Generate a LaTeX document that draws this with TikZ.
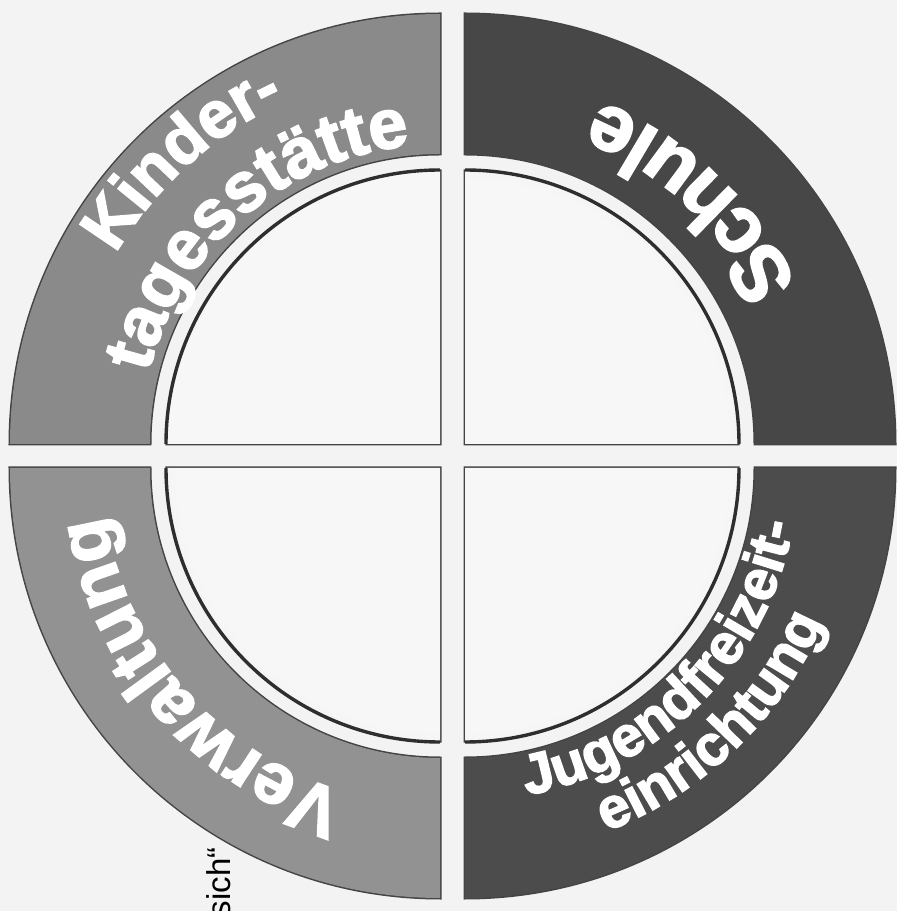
\documentclass[tikz,border=0pt]{standalone}
\usepackage{fontspec}
\setmainfont{Liberation Sans}
\newfontfamily\bandfont{Liberation Sans}[BoldFeatures={FakeBold=2.5}]
\usetikzlibrary{decorations.text}
\definecolor{bgc}{HTML}{F3F3F3}
\definecolor{lightband}{HTML}{8A8A8A}
\definecolor{lightbandB}{HTML}{929292}
\definecolor{darkband}{HTML}{474747}
\definecolor{darkbandB}{HTML}{4C4C4C}
\definecolor{dA}{HTML}{F7F7F7}
\definecolor{dB}{HTML}{BEBEBE}
\definecolor{dC}{HTML}{E2E2E2}
\definecolor{olc}{HTML}{444444}
\definecolor{arcc}{HTML}{2E2E2E}
\pgfdeclareradialshading{discsh}{\pgfpoint{0bp}{0bp}}{color(0bp)=(dA); color(24bp)=(dA); color(50bp)=(dB)}
\pgfdeclareradialshading{discshL}{\pgfpoint{0bp}{0bp}}{color(0bp)=(dA); color(30bp)=(dA); color(50bp)=(dC)}
\newcommand\bfKinder{\bandfont\bfseries\fontsize{33pt}{36pt}\selectfont}
\newcommand\bfTages{\bandfont\bfseries\fontsize{35pt}{38pt}\selectfont}
\newcommand\bfSchule{\bandfont\bfseries\fontsize{40pt}{44pt}\selectfont}
\newcommand\bfVerw{\bandfont\bfseries\fontsize{36pt}{40pt}\selectfont}
\newcommand\bfJugend{\bandfont\bfseries\fontsize{28.5pt}{32pt}\selectfont}
\newcommand\myband[3]{([shift={(#2:290)}]#1) -- ([shift={(#2:430)}]#1) arc[start angle=#2, end angle=#3, radius=430] -- ([shift={(#3:290)}]#1) arc[start angle=#3, end angle=#2, radius=290] -- cycle}
\newcommand\mydisc[3]{(#1) -- ([shift={(#2:273)}]#1) arc[start angle=#2, end angle=#3, radius=273] -- cycle}
\tikzset{
  outline/.style={draw=olc, line width=1.5pt, fill=none},
  discarc/.style={draw=arcc, line width=1.7pt},
  bandtext/.style={decorate, decoration={text along path, text align=fit to path, text color=white, text={#1}}}
}
\begin{document}
\begin{tikzpicture}[x=0.5pt, y=0.5pt]
\useasboundingbox (0,0) rectangle (897,911);
\clip (0,0) rectangle (897,911);
\fill[bgc] (0,0) rectangle (897,911);
\coordinate (TLc) at (440,467);
\coordinate (TRc) at (465,467);
\coordinate (BLc) at (440,443);
\coordinate (BRc) at (465,443);
\foreach \c/\a/\col/\sh in {TLc/90/lightband/discshL, TRc/0/darkband/discsh, BLc/180/lightbandB/discsh, BRc/270/darkbandB/discsh}{
  \pgfmathsetmacro\b{\a+90}
  \begin{scope}[shift={(6,6)}]
    \draw[outline] \myband{\c}{\a}{\b};
    \draw[outline] \mydisc{\c}{\a}{\b};
  \end{scope}
  \fill[\col] \myband{\c}{\a}{\b};
  \begin{scope}
    \clip \mydisc{\c}{\a}{\b};
    \shade[shading=\sh] (\c) circle[radius=273];
  \end{scope}
  \draw[discarc] ([shift={(\a:274)}]\c) arc[start angle=\a, end angle=\b, radius=274];
}
\path[bandtext={|\bfKinder|Kinder-}] ([shift={(149.6:376)}]TLc) arc[start angle=149.6, end angle=114.75, radius=376];
\path[bandtext={|\bfTages|tagesstätte}] ([shift={(166.3:300)}]TLc) arc[start angle=166.3, end angle=97.3, radius=300];
\path[bandtext={|\bfSchule|Schule}] ([shift={(25.8:368)}]TRc) arc[start angle=25.8, end angle=68.4, radius=368];
\path[bandtext={|\bfVerw|Verwaltung}] ([shift={(253.8:338)}]BLc) arc[start angle=253.8, end angle=190.5, radius=338];
\path[bandtext={|\bfJugend|Jugendfreizeit-}] ([shift={(-79.3:333)}]BRc) arc[start angle=-79.3, end angle=-11.0, radius=333];
\path[bandtext={|\bfJugend|einrichtung}] ([shift={(-68.8:390)}]BRc) arc[start angle=-68.8, end angle=-23.5, radius=390];
\node[font=\fontsize{16.5pt}{20pt}\selectfont, rotate=90, anchor=base east, inner sep=0pt] (sich) at (230,64) {sich“};
\end{tikzpicture}
\end{document}
